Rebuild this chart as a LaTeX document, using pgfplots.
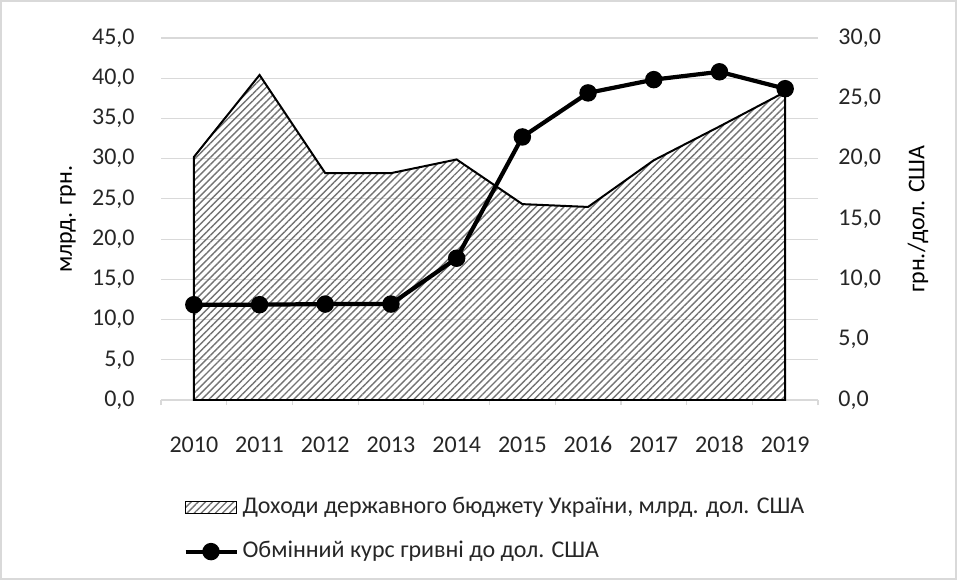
\documentclass[border=0pt]{standalone}
\usepackage{pgfplots}
\pgfplotsset{compat=1.18}
\usepackage{fontspec}
\setmainfont{Carlito}
\usetikzlibrary{patterns.meta}
\definecolor{gridgray}{RGB}{217,217,217}
\definecolor{txt}{RGB}{38,38,38}
\pgfplotsset{
  arealeg/.style={legend image code/.code={\draw[##1] (0pt,-3pt) rectangle (25.5pt,3pt);}},
  lineleg/.style={legend image code/.code={\draw[mark repeat=2,mark phase=2,##1] plot coordinates {(0pt,0pt) (12.75pt,0pt) (25.5pt,0pt)};}},
}
\begin{document}
\fontsize{12}{14}\selectfont
\begin{tikzpicture}
\pgfplotsset{
  common/.style={
    width=328.5pt, height=181pt, scale only axis,
    xmin=-0.5, xmax=9.5, ymin=0,
    /pgf/number format/.cd, fixed, fixed zerofill, precision=1, use comma, assume math mode=true, /pgfplots/.cd,
    tick label style={font=\fontsize{12}{14}\selectfont, text=txt},
    label style={font=\fontsize{12}{14}\selectfont, text=txt},
    ytick style={draw=none},
  },
  hatch/.style={draw=black, line width=1pt, pattern={Lines[angle=45,distance=2.5pt,line width=0.7pt]}, pattern color=black!55},
}
\begin{axis}[common,
  ymax=45, ytick distance=5,
  axis x line*=bottom, axis y line*=left,
  y axis line style={draw=none},
  x axis line style={draw=gridgray, line width=0.6pt, -},
  xtick={-0.5,0.5,1.5,2.5,3.5,4.5,5.5,6.5,7.5,8.5,9.5},
  x tick label as interval,
  xticklabels={2010,2011,2012,2013,2014,2015,2016,2017,2018,2019},
  xtick style={draw=gridgray, line width=0.6pt},
  tick align=outside, major tick length=2.5pt,
  xticklabel style={yshift=-11pt, text height=8.5pt, text depth=0pt},
  yticklabel style={xshift=-6.5pt},
  ymajorgrids, major grid style={draw=gridgray, line width=0.6pt},
  ylabel={млрд. грн.},
  every axis y label/.style={at={(axis description cs:-0.1416,0.5)}, anchor=center, rotate=90},
]
\addplot[hatch] coordinates {
(0,30.2) (1,40.4) (2,28.2) (3,28.2) (4,29.9) (5,24.35) (6,24.0) (7,29.8) (8,34.0) (9,38.3)
} \closedcycle;
\end{axis}
\begin{axis}[common,
  ymax=30, ytick distance=5,
  axis x line=none, axis y line*=right,
  y axis line style={draw=none},
  yticklabel style={xshift=6pt},
  ylabel={грн./дол. США},
  every axis y label/.style={at={(axis description cs:1.152,0.5)}, anchor=center, rotate=90},
  legend style={at={(axis description cs:0.0335,-0.358)}, anchor=west, draw=none, fill=none,
    inner sep=0pt, row sep=6pt, font=\fontsize{12}{14}\selectfont,
    nodes={text=txt, text height=9pt, text depth=3pt, inner sep=2pt}},
  legend cell align=left,
]
\addlegendimage{hatch, line width=0.8pt, arealeg}
\addlegendentry{Доходи державного бюджету України, млрд. дол. США}
\addplot[black, line width=2.1pt, mark=*, mark size=3.3pt, lineleg]
coordinates {
(0,7.9) (1,7.9) (2,7.95) (3,7.95) (4,11.75) (5,21.8) (6,25.45) (7,26.55) (8,27.2) (9,25.8)
};
\addlegendentry{Обмінний курс гривні до дол. США}
\end{axis}
\draw[gridgray, line width=0.8pt] (-80.1pt,-89.6pt) rectangle (397.6pt,199.6pt);
\end{tikzpicture}
\end{document}
